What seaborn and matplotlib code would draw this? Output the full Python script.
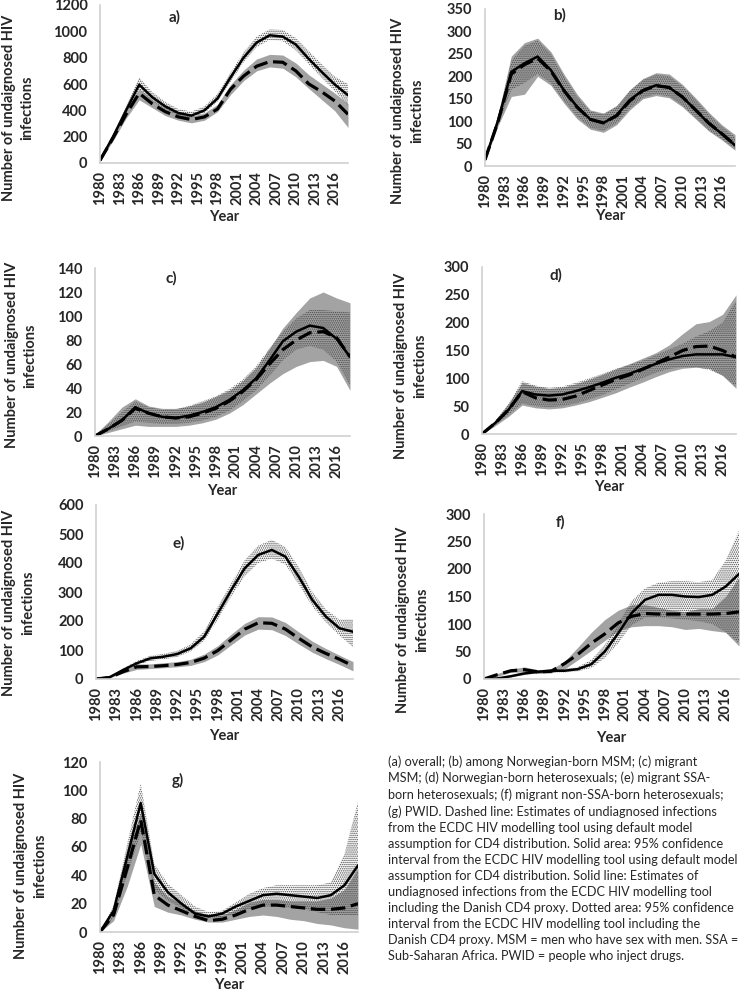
import numpy as np
import pandas as pd
import seaborn as sns
import matplotlib.pyplot as plt

years = list(range(1980, 2019, 2))
tick_years = list(range(1980, 2017, 3))

# a) overall
a_solid = [20, 200, 400, 595, 500, 430, 380, 360, 400, 490, 650, 800, 915, 970, 960, 900, 790, 690, 595, 515]
a_solid_lo = [15, 190, 380, 560, 470, 410, 360, 345, 380, 465, 615, 765, 880, 935, 925, 855, 750, 645, 545, 440]
a_solid_hi = [25, 215, 430, 650, 540, 465, 410, 390, 430, 525, 685, 840, 960, 1015, 1010, 950, 850, 750, 655, 600]
a_dash = [20, 190, 370, 530, 450, 390, 350, 330, 350, 410, 560, 660, 735, 770, 765, 700, 600, 540, 470, 370]
a_dash_lo = [15, 170, 340, 480, 420, 360, 325, 305, 325, 390, 520, 625, 700, 730, 720, 655, 565, 480, 395, 270]
a_dash_hi = [25, 210, 400, 565, 480, 420, 380, 355, 380, 445, 595, 705, 790, 825, 820, 760, 670, 600, 530, 450]

# b) Norwegian-born MSM
b_solid = [14, 102, 210, 229, 244, 214, 169, 132, 104, 96, 113, 147, 169, 180, 175, 154, 125, 95, 72, 46]
b_solid_lo = [12, 92, 170, 185, 205, 185, 145, 110, 85, 78, 95, 128, 152, 160, 155, 135, 108, 80, 60, 38]
b_solid_hi = [17, 112, 235, 268, 280, 250, 200, 155, 122, 115, 132, 167, 192, 204, 200, 178, 148, 116, 88, 65]
b_dash = [14, 100, 205, 226, 240, 212, 168, 131, 104, 96, 112, 145, 168, 179, 175, 154, 125, 96, 72, 47]
b_dash_lo = [12, 90, 155, 160, 200, 180, 140, 105, 82, 75, 92, 125, 150, 157, 152, 132, 105, 78, 58, 35]
b_dash_hi = [18, 115, 245, 275, 285, 255, 205, 160, 125, 118, 135, 170, 195, 208, 205, 182, 152, 120, 92, 70]

# c) migrant MSM
c_solid = [0, 6, 13, 24, 19, 16, 15, 17, 20, 24, 30, 38, 48, 63, 79, 87, 92, 90, 81, 66]
c_solid_lo = [0, 4, 8, 12, 11, 10, 10, 11, 13, 16, 21, 29, 38, 50, 63, 72, 75, 72, 62, 42]
c_solid_hi = [1, 10, 20, 29, 24, 22, 22, 25, 29, 33, 39, 47, 58, 73, 87, 98, 105, 105, 104, 103]
c_dash = [0, 6, 13, 23, 19, 16, 15, 16, 19, 23, 29, 37, 47, 60, 72, 80, 86, 87, 82, 66]
c_dash_lo = [0, 3, 6, 9, 8, 8, 8, 9, 11, 14, 19, 26, 35, 44, 52, 58, 62, 63, 58, 38]
c_dash_hi = [1, 12, 24, 31, 25, 23, 23, 25, 28, 33, 38, 46, 57, 73, 90, 103, 115, 120, 115, 111]

# d) Norwegian-born heterosexuals
d_solid = [0, 20, 44, 77, 71, 69, 71, 77, 84, 92, 101, 108, 117, 126, 134, 140, 143, 143, 143, 138]
d_solid_lo = [0, 16, 35, 55, 50, 48, 50, 55, 62, 70, 80, 90, 100, 110, 117, 120, 120, 115, 105, 85]
d_solid_hi = [0, 24, 54, 95, 87, 83, 85, 92, 100, 108, 117, 124, 132, 142, 152, 162, 175, 185, 200, 240]
d_dash = [0, 20, 44, 76, 65, 61, 62, 68, 78, 88, 98, 106, 116, 127, 138, 150, 157, 158, 150, 138]
d_dash_lo = [0, 15, 32, 52, 47, 45, 47, 52, 58, 66, 74, 84, 93, 103, 112, 118, 120, 118, 105, 82]
d_dash_hi = [0, 25, 56, 92, 86, 82, 84, 90, 98, 107, 117, 126, 136, 146, 160, 180, 198, 202, 215, 250]

# e) migrant SSA-born heterosexuals
e_solid = [0, 6, 31, 54, 71, 77, 86, 106, 146, 226, 307, 382, 428, 445, 422, 352, 272, 215, 175, 163]
e_solid_lo = [0, 5, 27, 48, 62, 68, 76, 95, 132, 205, 285, 355, 400, 415, 395, 325, 250, 195, 150, 110]
e_solid_hi = [0, 8, 36, 62, 80, 87, 97, 120, 165, 250, 330, 410, 460, 480, 455, 385, 300, 240, 205, 205]
e_dash = [0, 5, 25, 42, 43, 46, 50, 57, 72, 98, 135, 172, 194, 192, 172, 140, 110, 88, 68, 45]
e_dash_lo = [0, 4, 20, 33, 36, 39, 42, 47, 60, 83, 118, 152, 172, 170, 150, 120, 92, 70, 50, 28]
e_dash_hi = [0, 7, 30, 52, 52, 56, 60, 68, 86, 115, 155, 192, 215, 214, 195, 162, 130, 105, 82, 60]

# f) migrant non-SSA-born heterosexuals
f_solid = [0, 1, 5, 10, 13, 15, 15, 18, 27, 50, 83, 120, 144, 153, 153, 150, 149, 153, 168, 191]
f_solid_lo = [0, 0, 3, 7, 10, 12, 12, 14, 20, 38, 65, 98, 112, 112, 110, 108, 105, 100, 85, 65]
f_solid_hi = [0, 2, 7, 13, 16, 18, 18, 22, 35, 62, 100, 142, 165, 175, 178, 178, 176, 180, 215, 270]
f_dash = [0, 8, 15, 17, 13, 14, 28, 45, 65, 82, 102, 114, 119, 118, 118, 118, 118, 118, 119, 122]
f_dash_lo = [0, 5, 12, 13, 10, 11, 18, 35, 52, 70, 88, 95, 97, 97, 95, 90, 92, 88, 85, 60]
f_dash_hi = [0, 10, 18, 22, 17, 18, 32, 58, 85, 108, 125, 135, 135, 130, 125, 122, 128, 128, 150, 185]

# g) PWID
g_solid = [0, 15, 53, 91, 41, 28, 20, 13, 11, 13, 18, 22, 26, 27, 26, 25, 24, 26, 33, 47]
g_solid_lo = [0, 10, 40, 70, 30, 22, 17, 12, 10, 10, 13, 16, 18, 18, 17, 16, 14, 12, 12, 12]
g_solid_hi = [0, 18, 62, 105, 48, 34, 26, 18, 14, 15, 21, 27, 31, 33, 33, 33, 33, 35, 55, 92]
g_dash = [0, 12, 45, 79, 26, 19, 15, 11, 8, 9, 12, 16, 19, 19, 18, 17, 16, 16, 17, 20]
g_dash_lo = [0, 8, 32, 62, 18, 14, 12, 9, 7, 7, 9, 11, 12, 11, 9, 8, 6, 5, 3, 2]
g_dash_hi = [0, 14, 55, 85, 35, 25, 20, 15, 12, 12, 16, 21, 23, 23, 22, 22, 22, 24, 30, 45]

caption = ("(a) overall; (b) among Norwegian-born MSM; (c) migrant\n"
           "MSM; (d) Norwegian-born heterosexuals; (e) migrant SSA-\n"
           "born heterosexuals; (f) migrant non-SSA-born heterosexuals;\n"
           "(g) PWID. Dashed line: Estimates of undiagnosed infections\n"
           "from the ECDC HIV modelling tool using default model\n"
           "assumption for CD4 distribution. Solid area: 95% confidence\n"
           "interval from the ECDC HIV modelling tool using default model\n"
           "assumption for CD4 distribution. Solid line: Estimates of\n"
           "undiagnosed infections from the ECDC HIV modelling tool\n"
           "including the Danish CD4 proxy. Dotted area: 95% confidence\n"
           "interval from the ECDC HIV modelling tool including the\n"
           "Danish CD4 proxy. MSM = men who have sex with men. SSA =\n"
           "Sub-Saharan Africa. PWID = people who inject drugs.")

sns.set_style("white")
plt.rcParams['font.family'] = ['Lato', 'DejaVu Sans']
plt.rcParams['hatch.linewidth'] = 0.7
plt.rcParams['hatch.color'] = '#4a4a4a'

W, H = 742, 992
fig = plt.figure(figsize=(W / 100, H / 100), dpi=100)

# label, data, ymax, ystep, axes box in px (left, top, right, bottom),
# letter pos, ylabel pos, xlabel y
panels = [
    ('a)', (a_solid, a_solid_lo, a_solid_hi, a_dash, a_dash_lo, a_dash_hi), 1200, 200,
     (100, 5, 348, 163), (0.30, 0.92), (-0.33, 0.35), -0.34),
    ('b)', (b_solid, b_solid_lo, b_solid_hi, b_dash, b_dash_lo, b_dash_hi), 350, 50,
     (485, 9, 735, 166), (0.30, 0.96), (-0.31, 0.35), -0.32),
    ('c)', (c_solid, c_solid_lo, c_solid_hi, c_dash, c_dash_lo, c_dash_hi), 140, 20,
     (95, 268, 350, 436), (0.30, 0.94), (-0.29, 0.48), -0.33),
    ('d)', (d_solid, d_solid_lo, d_solid_hi, d_dash, d_dash_lo, d_dash_hi), 300, 50,
     (482, 267, 736, 434), (0.29, 0.95), (-0.28, 0.41), -0.32),
    ('e)', (e_solid, e_solid_lo, e_solid_hi, e_dash, e_dash_lo, e_dash_hi), 600, 100,
     (96, 505, 353, 679), (0.32, 0.78), (-0.30, 0.44), -0.33),
    ('f)', (f_solid, f_solid_lo, f_solid_hi, f_dash, f_dash_lo, f_dash_hi), 300, 50,
     (484, 514, 739, 679), (0.30, 0.95), (-0.28, 0.36), -0.36),
    ('g)', (g_solid, g_solid_lo, g_solid_hi, g_dash, g_dash_lo, g_dash_hi), 120, 20,
     (100, 762, 358, 932), (0.30, 0.89), (-0.27, 0.39), -0.31),
]

for letter, vals, ymax, ystep, box, lpos, ylpos, xly in panels:
    l, t, r, b = box
    ax = fig.add_axes([l / W, 1 - b / H, (r - l) / W, (b - t) / H])
    solid, solid_lo, solid_hi, dash, dash_lo, dash_hi = vals
    df = pd.DataFrame({'Year': years, 'solid': solid, 'dash': dash})

    # solid grey area: CI for default model, dotted area: CI with Danish proxy
    ax.fill_between(years, dash_lo, dash_hi, color='#a3a3a3', lw=0)
    ax.fill_between(years, solid_lo, solid_hi, facecolor='none',
                    edgecolor='#4a4a4a', hatch='........', lw=0)
    sns.lineplot(data=df, x='Year', y='dash', ax=ax, color='black', lw=2.3,
                 dashes=False, linestyle=(0, (4.5, 1.8)))
    sns.lineplot(data=df, x='Year', y='solid', ax=ax, color='black', lw=1.8)

    ax.set_xlim(1980, 2018)
    ax.set_ylim(0, ymax)
    ax.set_yticks(np.arange(0, ymax + 1, ystep))
    ax.set_xticks(tick_years)
    ax.set_xticklabels([str(y) for y in tick_years], rotation=90)
    ax.tick_params(axis='both', length=0, labelsize=10.5, pad=9)
    ax.tick_params(axis='x', pad=6)
    for lab in ax.get_xticklabels() + ax.get_yticklabels():
        lab.set_fontweight('bold')
    for s in ['top', 'right']:
        ax.spines[s].set_visible(False)
    for s in ['left', 'bottom']:
        ax.spines[s].set_color('#d0d0d0')
        ax.spines[s].set_linewidth(1.2)

    ax.set_xlabel('Year', fontsize=10.5, fontweight='bold')
    ax.xaxis.label.set_va('center')
    ax.xaxis.set_label_coords(0.5, xly)
    ax.set_ylabel('Number of undaignosed HIV\ninfections', fontsize=10.5,
                  fontweight='bold', linespacing=1.45)
    ax.yaxis.label.set_va('center')
    ax.yaxis.set_label_coords(*ylpos)
    ax.text(lpos[0], lpos[1], letter, transform=ax.transAxes, fontsize=11,
            fontweight='bold', ha='center', va='center')

fig.text(388 / W, 1 - 755 / H, caption, fontsize=9.1, ha='left', va='top',
         linespacing=1.4)

fig.savefig('out.png', dpi=100)
